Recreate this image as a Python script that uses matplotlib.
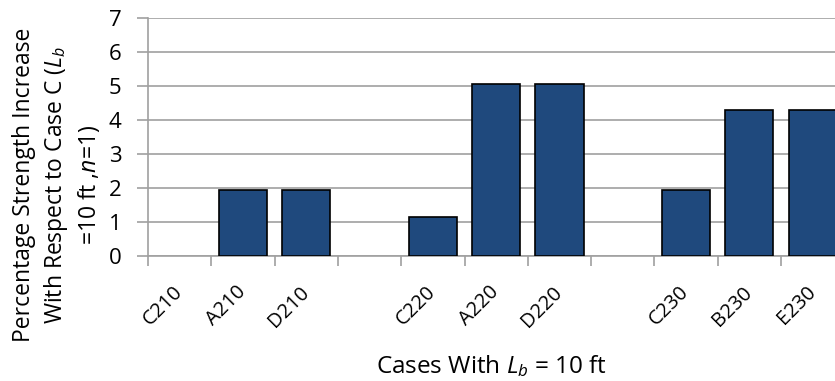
import matplotlib
matplotlib.use("Agg")
import matplotlib.pyplot as plt
from matplotlib.ticker import FixedLocator

categories = ["C210", "A210", "D210", "", "C220", "A220", "D220", "", "C230", "B230", "E230"]
values = [0.0, 1.95, 1.95, 0.0, 1.16, 5.05, 5.05, 0.0, 1.95, 4.28, 4.28]
yticks = [0, 1, 2, 3, 4, 5, 6, 7]

plt.rcParams['font.family'] = ['Open Sans', 'DejaVu Sans']
plt.rcParams['mathtext.fontset'] = 'custom'
plt.rcParams['mathtext.rm'] = 'Open Sans'
plt.rcParams['mathtext.it'] = 'Open Sans:italic'

fig = plt.figure(figsize=(8.35, 3.81), dpi=100)
ax = fig.add_axes([148/835, 1-256/381, 1-148/835, (256-18)/381])

x = list(range(len(categories)))
bx = [i for i, v in zip(x, values) if v > 0]
bv = [v for v in values if v > 0]
ax.bar(bx, bv, width=0.76, color="#1F497D", edgecolor="black", linewidth=1.2, zorder=3)

ax.set_xlim(-0.5, -0.5 + 687/63.3)
ax.set_ylim(0, 7)
ax.set_yticks(yticks)
ax.yaxis.grid(True, color="#A0A0A0", linewidth=1.2, zorder=0)
ax.set_axisbelow(True)

ax.set_xticks(x)
ax.set_xticklabels(categories, rotation=45, ha="right", va="center", rotation_mode="anchor", fontsize=14.5)
ax.tick_params(axis="x", which="major", length=0, pad=24)
ax.xaxis.set_minor_locator(FixedLocator([i - 0.5 for i in range(len(categories) + 1)]))
ax.tick_params(axis="x", which="minor", length=7, color="#A0A0A0", width=1.2)
ax.tick_params(axis="y", length=8, color="#A0A0A0", width=1.2, labelsize=16, pad=11)

for s in ["top", "right"]:
    ax.spines[s].set_visible(False)
for s in ["left", "bottom"]:
    ax.spines[s].set_color("#A0A0A0")
    ax.spines[s].set_linewidth(1.2)

fig.text(57/835, 1 - 185/381,
         "Percentage Strength Increase\nWith Respect to Case C ($L_b$\n=10 ft ,$n$=1)",
         fontsize=16.5, linespacing=1.3, rotation=90, ha="center", va="center",
         multialignment="center")
ax.set_xlabel("Cases With $L_b$ = 10 ft", fontsize=17.5, labelpad=16)

fig.savefig("out.png", dpi=100)
